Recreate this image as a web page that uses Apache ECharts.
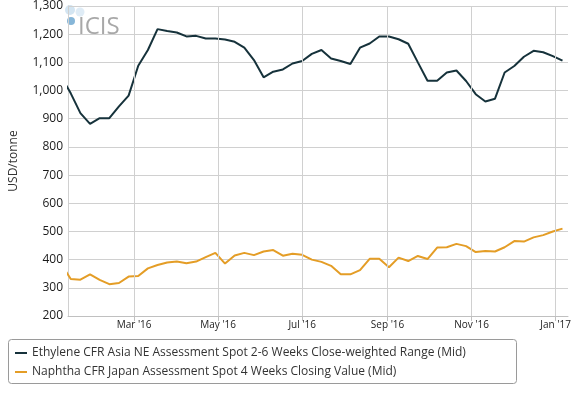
<!DOCTYPE html>
<html>
<head>
<meta charset="utf-8">
<script src="https://cdn.jsdelivr.net/npm/echarts@6/dist/echarts.min.js"></script>
<style>
  html, body { margin: 0; padding: 0; background: #fff; }
  #chart { width: 576px; height: 394px; }
</style>
</head>
<body>
<div id="chart"></div>
<script>
// Weekly assessment dates (first one lies just before the visible range)
const dates = [
  '2016-01-08','2016-01-15','2016-01-22','2016-01-29','2016-02-05','2016-02-12','2016-02-19','2016-02-26',
  '2016-03-04','2016-03-11','2016-03-18','2016-03-25','2016-04-01','2016-04-08','2016-04-15','2016-04-22',
  '2016-04-29','2016-05-06','2016-05-13','2016-05-20','2016-05-27','2016-06-03','2016-06-10','2016-06-17',
  '2016-06-24','2016-07-01','2016-07-08','2016-07-15','2016-07-22','2016-07-29','2016-08-05','2016-08-12',
  '2016-08-19','2016-08-26','2016-09-02','2016-09-09','2016-09-16','2016-09-23','2016-09-30','2016-10-07',
  '2016-10-14','2016-10-21','2016-10-28','2016-11-04','2016-11-11','2016-11-18','2016-11-25','2016-12-02',
  '2016-12-09','2016-12-16','2016-12-23','2016-12-30','2017-01-06'
];
const ethylene = [
  1050, 990, 920, 882, 902, 902, 944, 982, 1088, 1144, 1218, 1211, 1206, 1192, 1194, 1185,
  1185, 1181, 1173, 1152, 1108, 1047, 1067, 1075, 1096, 1105, 1130, 1144, 1114, 1105, 1094, 1152,
  1167, 1192, 1192, 1182, 1166, 1100, 1035, 1035, 1064, 1071, 1034, 987, 961, 971, 1064, 1087,
  1120, 1141, 1136, 1122, 1106
];
const naphtha = [
  385, 331, 329, 348, 328, 313, 317, 340, 342, 369, 381, 390, 393, 387, 393, 409,
  424, 386, 415, 424, 416, 429, 434, 414, 421, 417, 400, 392, 378, 348, 348, 363,
  403, 403, 373, 407, 395, 413, 402, 443, 444, 456, 448, 427, 431, 429, 444, 466,
  464, 479, 487, 500, 510
];
const seriesNames = [
  'Ethylene CFR Asia NE Assessment Spot 2-6 Weeks Close-weighted Range (Mid)',
  'Naphtha CFR Japan Assessment Spot 4 Weeks Closing Value (Mid)'
];
const tickDates = ['2016-03-01','2016-05-01','2016-07-01','2016-09-01','2016-11-01','2017-01-01'];
const tickLabels = ["Mar '16","May '16","Jul '16","Sep '16","Nov '16","Jan '17"];
const xRange = ['2016-01-13', '2017-01-10'];
const yRange = [200, 1300, 100];

function ts(s) {
  const p = s.split('-').map(Number);
  return new Date(p[0], p[1] - 1, p[2]).getTime();
}
const tickValues = tickDates.map(ts);
function commas(v) {
  return String(v).replace(/\B(?=(\d{3})+(?!\d))/g, ',');
}

const chart = echarts.init(document.getElementById('chart'), null, { renderer: 'canvas' });
const FONT = 'Open Sans';
chart.setOption({
  animation: false,
  backgroundColor: '#ffffff',
  textStyle: { fontFamily: FONT },
  grid: { left: 62, right: 8, top: 4, bottom: 78, containLabel: false },
  xAxis: {
    type: 'value',
    min: ts(xRange[0]),
    max: ts(xRange[1]),
    axisLine: { show: true, onZero: false, lineStyle: { color: '#c0c0c0', width: 1 } },
    axisTick: { show: true, length: 5, customValues: tickValues, lineStyle: { color: '#c0c0c0' } },
    splitLine: { show: false },
    axisLabel: {
      customValues: tickValues,
      margin: 4,
      fontSize: 10,
      color: '#222',
      fontFamily: FONT,
      formatter: function (v) {
        const i = tickValues.indexOf(v);
        return i >= 0 ? tickLabels[i] : '';
      }
    }
  },
  yAxis: {
    type: 'value',
    min: yRange[0],
    max: yRange[1],
    interval: yRange[2],
    name: 'USD/tonne',
    nameLocation: 'middle',
    nameRotate: 90,
    nameGap: 48,
    nameTextStyle: { fontSize: 12, color: '#333', fontFamily: FONT },
    axisLine: { show: true, lineStyle: { color: '#d0d0d0' } },
    axisTick: { show: false },
    splitLine: { show: true, lineStyle: { color: '#d0d0d0', width: 1 } },
    axisLabel: {
      margin: 5,
      fontSize: 12,
      color: '#1a1a1a',
      fontFamily: FONT,
      formatter: function (v) { return commas(v); }
    }
  },
  legend: {
    orient: 'vertical',
    left: 8,
    top: 339,
    padding: [6, 8, 3, 7],
    itemGap: 3,
    itemWidth: 12,
    itemHeight: 2,
    icon: 'rect',
    textStyle: { fontSize: 12, color: '#333', fontFamily: FONT, lineHeight: 16 },
    data: seriesNames
  },
  graphic: [
    { type: 'rect', left: 8, top: 339, z: -1, shape: { width: 508, height: 44, r: 3 },
      style: { fill: '#fff', stroke: '#9a9a9a', lineWidth: 1 } },
    { type: 'circle', z: -1, shape: { cx: 70, cy: 10, r: 5 }, style: { fill: '#d3e5f2' } },
    { type: 'circle', z: -1, shape: { cx: 80, cy: 12, r: 4.5 }, style: { fill: '#dfecf6' } },
    { type: 'circle', z: -1, shape: { cx: 71, cy: 21, r: 4 }, style: { fill: '#86b6d8' } },
    { type: 'text', z: -1, left: 78, top: 15,
      style: { text: 'ICIS', fontSize: 24, fontFamily: FONT, fill: '#a8a8a8' } }
  ],
  series: [
    {
      name: 'grid',
      type: 'line',
      z: 1,
      data: [],
      silent: true,
      markLine: {
        silent: true,
        symbol: ['none', 'none'],
        label: { show: false },
        lineStyle: { type: 'solid', color: '#d0d0d0', width: 1 },
        data: tickValues.map(v => ({ xAxis: v }))
      }
    },
    {
      name: seriesNames[0],
      type: 'line',
      showSymbol: false,
      symbol: 'none',
      clip: true,
      color: '#16323b',
      lineStyle: { width: 2, color: '#16323b' },
      data: dates.map((d, i) => [ts(d), ethylene[i]])
    },
    {
      name: seriesNames[1],
      type: 'line',
      showSymbol: false,
      symbol: 'none',
      clip: true,
      color: '#e49d26',
      lineStyle: { width: 2, color: '#e49d26' },
      data: dates.map((d, i) => [ts(d), naphtha[i]])
    }
  ]
});
</script>
</body>
</html>
